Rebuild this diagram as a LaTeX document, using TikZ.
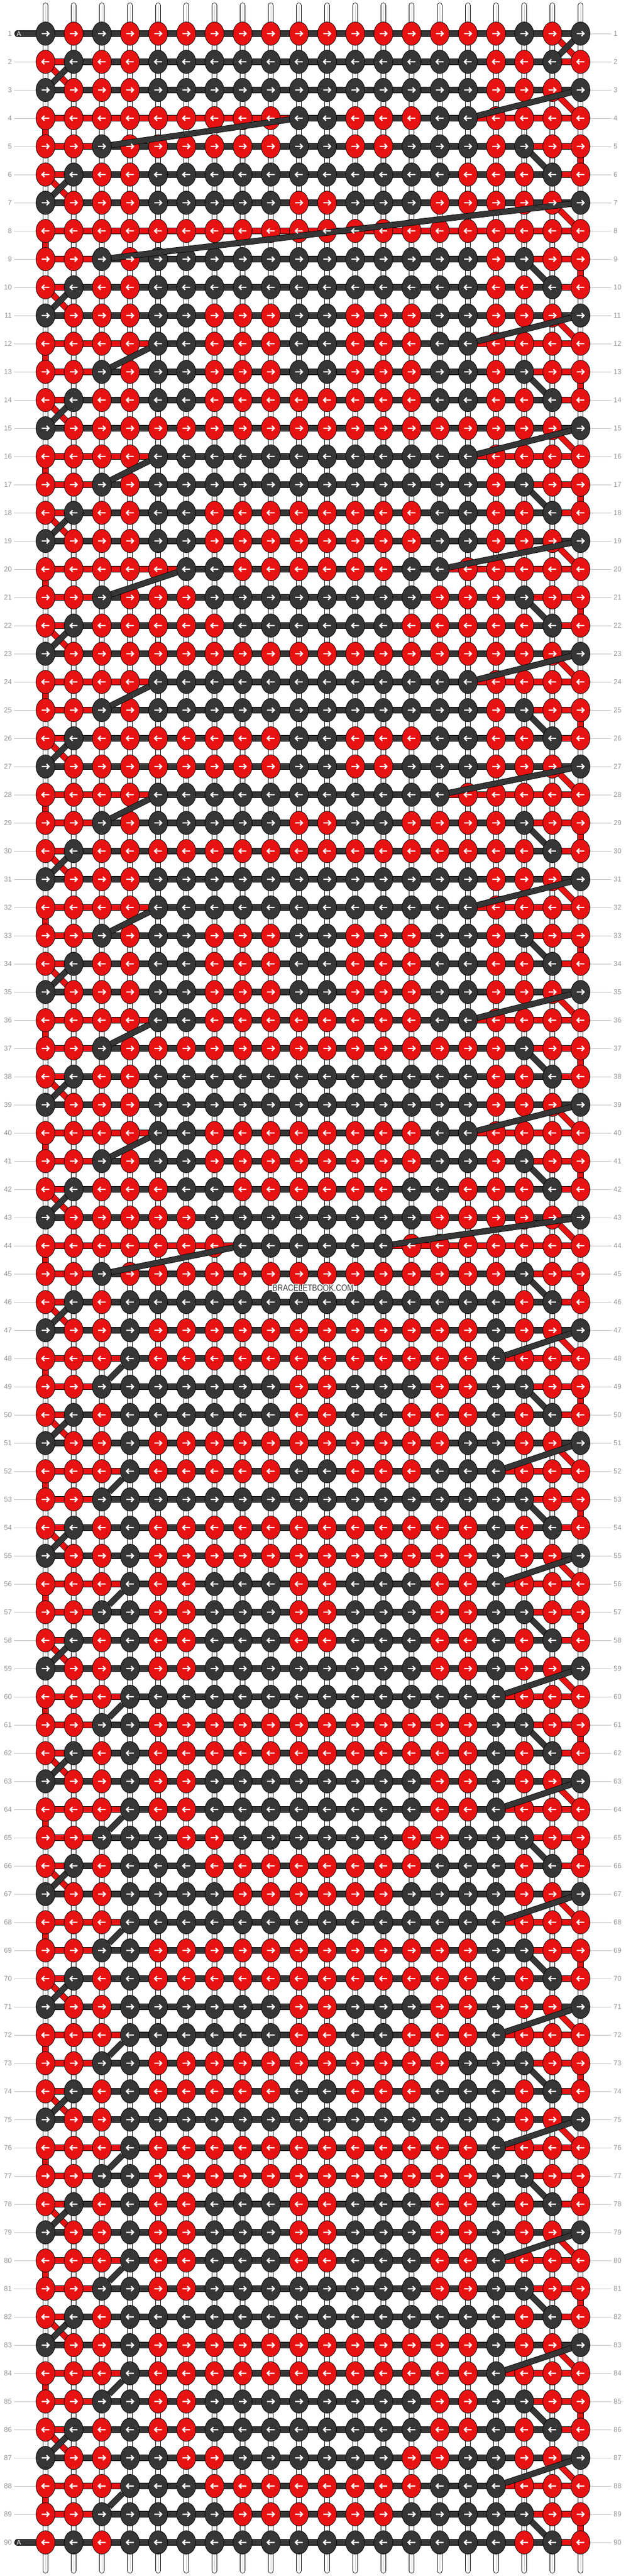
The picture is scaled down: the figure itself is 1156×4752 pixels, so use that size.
\documentclass[tikz,border=0pt]{standalone}
\usepackage{fontspec}
\setmainfont{Liberation Sans}
\usetikzlibrary{shapes.geometric}
\definecolor{kred}{RGB}{232,18,18}
\definecolor{kdark}{RGB}{54,54,54}
\definecolor{labgray}{RGB}{150,150,150}
\definecolor{linegray}{RGB}{192,192,192}
\definecolor{wmgray}{RGB}{60,60,60}
\pgfdeclarelayer{bg}
\pgfsetlayers{bg,main}
\tikzset{
  knot/.style={ellipse, draw=black, line width=0.8pt, minimum width=35pt, minimum height=43pt, inner sep=0pt},
  bar/.style={draw=black, line width=0.8pt, double=#1, double distance=9.6pt},
  tube/.style={draw=black, line width=0.7pt, double=white, double distance=8.6pt},
  tubemid/.style={draw=black!22, line width=0.8pt},
  arrline/.style={draw=white, line width=2.4pt, line join=miter},
  labline/.style={draw=linegray, line width=1pt},
  lab/.style={text=labgray, font=\fontsize{13}{15}\selectfont, inner sep=0pt},
  wm/.style={font=\fontsize{16.5}{16.5}\selectfont, xscale=0.84, inner sep=0pt}
}
\makeatletter
\newcount\kcnt
\def\krow#1#2{\def\krr{#1}\kcnt=0 \krow@#2\@nil}
\def\krow@#1{\ifx#1\@nil\else\kput#1\advance\kcnt by 1 \expandafter\krow@\fi}
\def\kput#1{%
  \edef\kname{k\krr-\the\kcnt}%
  \edef\kx{\the\numexpr84+52*\kcnt\relax}%
  \edef\ky{\the\numexpr62+52*(\krr-1)\relax}%
  \if#1R\def\kfill{kred}\else\def\kfill{kdark}\fi
  \node[knot,fill=\kfill] (\kname) at (\kx,\ky) {};}
\makeatother
\def\setB#1{\def\ks{16}\def\ke{3}%
 \ifnum#1=4 \def\ks{15}\def\ke{9}\fi
 \ifnum#1=8 \def\ks{-1}\def\ke{-1}\fi
 \ifnum#1=12 \def\ks{15}\def\ke{4}\fi
 \ifnum#1=16 \def\ks{15}\def\ke{4}\fi
 \ifnum#1=20 \def\ks{14}\def\ke{5}\fi
 \ifnum#1=24 \def\ks{15}\def\ke{4}\fi
 \ifnum#1=28 \def\ks{14}\def\ke{4}\fi
 \ifnum#1=32 \def\ks{15}\def\ke{4}\fi
 \ifnum#1=36 \def\ks{15}\def\ke{4}\fi
 \ifnum#1=40 \def\ks{15}\def\ke{4}\fi
 \ifnum#1=44 \def\ks{12}\def\ke{7}\fi}
\begin{document}
\begin{tikzpicture}[x=1pt,y=-1pt]
\useasboundingbox (0,0) rectangle (1156,4752);
% knots
\krow{1}{DRDRR RRRRR RRRRR RRDRD}
\krow{2}{RDRRD DDDDD DDDDD DRRDR}
\krow{3}{DRRRD DDDDD DDDDD DRRRD}
\krow{4}{RRRRR RRRRD DRRRD DRRRR}
\krow{5}{RRDRR RRRRD DRRDD DRDRR}
\krow{6}{RDRRD DDDDD DDDDD RRRDR}
\krow{7}{DRRRD DDDDR RDDDR RRRRD}
\krow{8}{RRRRR RRRRR RRRRR RRRRR}
\krow{9}{RRDRD DDDDD DDDDD DRDRR}
\krow{10}{RDRRD DDDDD DDDDD DRRDR}
\krow{11}{DRRRD DRRRD DRRRD DRRRD}
\krow{12}{RRRRD DRRRD DRRRD DRRRR}
\krow{13}{RRDRD DRRRD DRRRD DRDRR}
\krow{14}{RDRRD DRRRR RRRRD DRRDR}
\krow{15}{DRRRR RRRRR RRRRR RRRRD}
\krow{16}{RRRRD DDDDD DDDDD DRRRR}
\krow{17}{RRDRD DDDDD DDDDD DRDRR}
\krow{18}{RDRRD DRRRR RRRRD DRRDR}
\krow{19}{DRRRD DRRRR RRRRD DRRRD}
\krow{20}{RRRRR DDRRR RRRDD RRRRR}
\krow{21}{RRDRR RDDDD DDDDR RRDRR}
\krow{22}{RDRRR RRDDD DDDRR RRRDR}
\krow{23}{DRRRR RRRRR RRRRR RRRRD}
\krow{24}{RRRRD DDDDD DDDDD DRRRR}
\krow{25}{RRDRD DDDDD DDDDD DRDRR}
\krow{26}{RDRRR RRRRD DRRRD DRRDR}
\krow{27}{DRRRR RRRRD DRRDD DRRRD}
\krow{28}{RRRRD DDDDD DDDDD RRRRR}
\krow{29}{RRDRD DDDDR RDDRR RRDRR}
\krow{30}{RDRRR RRRRR RRRRR RRRDR}
\krow{31}{DRRRD DDDDD DDDDD DRRRD}
\krow{32}{RRRRD DDDDD DDDDD DRRRR}
\krow{33}{RRDRD DRRRD DRRRD DRDRR}
\krow{34}{RDRRD DRRRD DRRRD DRRDR}
\krow{35}{DRRRD DRRRD DRRRD DRRRD}
\krow{36}{RRRRD DRRRR RRRRD DRRRR}
\krow{37}{RRDRR RRRRR RRRRR RRDRR}
\krow{38}{RDRRD DDDDD DDDDD DRRDR}
\krow{39}{DRRRD DDDDD DDDDD DRRRD}
\krow{40}{RRRRD DRRRR RRRRD DRRRR}
\krow{41}{RRDRD DRRRR RRRRD DRDRR}
\krow{42}{RDRRR DDRRR RRRDD RRRDR}
\krow{43}{DRRRR RDDDD DDDDR RRRRD}
\krow{44}{RRRRR RRDDD DDDRR RRRRR}
\krow{45}{RRDRR RRRRR RRRRR RRDRR}
\krow{46}{RDRDD DDDDD DDDDD DDRDR}
\krow{47}{DRRDR RRRRR RRRRR RDRRD}
\krow{48}{RRRDR RRRRR RRRRR RDRRR}
\krow{49}{RRDDD DDDDR RDDDR RDDRR}
\krow{50}{RDRDD DDDDR RDDRR RDRDR}
\krow{51}{DRRDR RRRRR RRRRR DDRRD}
\krow{52}{RRRDR RRRRD DRRRD DDRRR}
\krow{53}{RRDDD DDDDD DDDDD DDDRR}
\krow{54}{RDRDR RRRRR RRRRR RDRDR}
\krow{55}{DRRDR RRRRR RRRRR RDRRD}
\krow{56}{RRRDR RDDDR RDDDR RDRRR}
\krow{57}{RRDDR RDDDR RDDDR RDDRR}
\krow{58}{RDRDR RDDDR RDDDR RDRDR}
\krow{59}{DRRDR RDDDD DDDDR RDRRD}
\krow{60}{RRRDD DDDDD DDDDD DDRRR}
\krow{61}{RRDDR RRRRR RRRRR RDDRR}
\krow{62}{RDRDR RRRRR RRRRR RDRDR}
\krow{63}{DRRDR RDDDD DDDDR RDRRD}
\krow{64}{RRRDR RDDDD DDDDR RDRRR}
\krow{65}{RRDDD RRDDD DDDRR DDDRR}
\krow{66}{RDRDD DRRRR RRRRD DDRDR}
\krow{67}{DRRDD DDRRR RRRDD DDRRD}
\krow{68}{RRRDD DDDDD DDDDD DDRRR}
\krow{69}{RRDDR RRRRR RRRRR RDDRR}
\krow{70}{RDRDR RRRRR RRRRR RDRDR}
\krow{71}{DRRDD DDDDR RDDDR RDRRD}
\krow{72}{RRRDD DDDDR RDDRR RDRRR}
\krow{73}{RRDDR RRRRR RRRRR DDDRR}
\krow{74}{RDRDR RRRRD DRRRD DDRDR}
\krow{75}{DRRDD DDDDD DDDDD DDRRD}
\krow{76}{RRRDR RRRRR RRRRR RDRRR}
\krow{77}{RRDDR RRRRR RRRRR RDDRR}
\krow{78}{RDRDR RDDDR RDDDR RDRDR}
\krow{79}{DRRDR RDDDR RDDDR RDRRD}
\krow{80}{RRRDR RDDDR RDDDR RDRRR}
\krow{81}{RRDDR RDDDD DDDDR RDDRR}
\krow{82}{RDRDD DDDDD DDDDD DDRDR}
\krow{83}{DRRDR RRRRR RRRRR RDRRD}
\krow{84}{RRRDR RRRRR RRRRR RDRRR}
\krow{85}{RRDDR RDDDD DDDDR RDDRR}
\krow{86}{RDRDR RDDDD DDDDR RDRDR}
\krow{87}{DRRDD RRDDD DDDRR DDRRD}
\krow{88}{RRRDD DRRRR RRRRD DDRRR}
\krow{89}{RRDDD DDRRR RRRDD DDDRR}
\krow{90}{RDRDD DDDDD DDDDD DDRDR}
\begin{pgfonlayer}{bg}
\fill[white] (0,0) rectangle (1156,4752);
% white strands, one per column
\foreach \c in {0,...,19}{%
  \pgfmathtruncatemacro\tx{84+52*\c}%
  \coordinate (top\c) at (\tx,10);
  \coordinate (bot\c) at (\tx,4742);
  \draw[tube,line cap=round] (top\c) foreach \r in {1,...,90}{ -- (k\r-\c.center)} -- (bot\c);
  \draw[tubemid] (top\c) foreach \r in {1,...,90}{ -- (k\r-\c.center)} -- (bot\c);
}
% horizontal bars as runs
\foreach \r in {1,...,90}{%
  \pgfmathtruncatemacro\m{mod(\r,4)}%
  \setB{\r}%
  \ifnum\r=1 \def\m{3}\fi
  \ifnum\m=3
    \draw[bar=kdark] (k\r-0.center) -- (k\r-19.center);
  \fi
  \ifnum\m=0
    \ifnum\ks<0
      \draw[bar=kred] (k\r-0.center) -- (k\r-19.center);
    \else
      \draw[bar=kred] (k\r-0.center) -- (k\r-\ke.center);
      \draw[bar=kred] (k\r-\ks.center) -- (k\r-19.center);
      \draw[bar=kdark] (k\r-\ke.center) -- (k\r-\ks.center);
    \fi
  \fi
  \ifnum\m=1
    \draw[bar=kred] (k\r-0.center) -- (k\r-2.center);
    \draw[bar=kred] (k\r-17.center) -- (k\r-19.center);
    \draw[bar=kdark] (k\r-2.center) -- (k\r-17.center);
  \fi
  \ifnum\m=2
    \draw[bar=kred] (k\r-18.center) -- (k\r-19.center);
    \ifnum\r=90
      \draw[bar=kdark] (k\r-0.center) -- (k\r-18.center);
    \else
      \draw[bar=kred] (k\r-0.center) -- (k\r-1.center);
      \draw[bar=kdark] (k\r-1.center) -- (k\r-18.center);
    \fi
  \fi}
% red vertical pieces
\foreach \r in {4,8,...,88}{%
  \pgfmathtruncatemacro\rn{\r+1}%
  \draw[bar=kred] (k\r-0.center) -- (k\rn-0.center);}
\foreach \r in {5,9,...,89}{%
  \pgfmathtruncatemacro\rn{\r+1}%
  \draw[bar=kred] (k\r-19.center) -- (k\rn-19.center);}
% short diagonals
\draw[bar=kred] (k1-18.center) -- (k2-19.center);
\draw[bar=kdark] (k1-19.center) -- (k2-18.center);
\foreach \r in {2,6,...,86}{%
  \pgfmathtruncatemacro\rn{\r+1}%
  \draw[bar=kred] (k\r-0.center) -- (k\rn-1.center);
  \draw[bar=kdark] (k\r-1.center) -- (k\rn-0.center);}
\foreach \r in {3,7,...,87}{%
  \pgfmathtruncatemacro\rn{\r+1}%
  \draw[bar=kred] (k\r-18.center) -- (k\rn-19.center);}
\foreach \r in {5,9,...,89}{%
  \pgfmathtruncatemacro\rn{\r+1}%
  \draw[bar=kdark] (k\r-17.center) -- (k\rn-18.center);}
% A tabs
\coordinate (tab1) at (32,62);
\coordinate (tab90) at (32,4690);
\draw[bar=kdark,line cap=round] (tab1) -- (k1-0.center);
\draw[bar=kdark,line cap=round] (tab90) -- (k90-0.center);
% label lines
\foreach \r in {1,...,90}{%
  \pgfmathtruncatemacro\ly{62+52*(\r-1)}%
  \coordinate (lr\r) at (1129,\ly);
  \draw[labline] (k\r-19.center) -- (lr\r);
  \ifnum\r=1 \else\ifnum\r=90 \else
    \coordinate (ll\r) at (26,\ly);
    \draw[labline] (ll\r) -- (k\r-0.center);
  \fi\fi}
\end{pgfonlayer}
% long dark diagonals over knots
\foreach \r in {3,7,...,87}{%
  \pgfmathtruncatemacro\rn{\r+1}%
  \pgfmathtruncatemacro\rnn{\r+2}%
  \setB{\rn}%
  \ifnum\ks<0
    \draw[bar=kdark] (k\r-19) -- (k\rnn-2);
  \else
    \draw[bar=kdark] (k\r-19) -- (k\rn-\ks);
    \draw[bar=kdark] (k\rn-\ke) -- (k\rnn-2);
  \fi}
% arrows, one path per row
\foreach \r in {1,...,90}{%
  \ifodd\r\relax
    \draw[arrline] foreach \c in {0,...,19}{
      ([xshift=-7pt]k\r-\c.center) -- ([xshift=6pt]k\r-\c.center)
      ([xshift=2pt,yshift=4.6pt]k\r-\c.center) -- ([xshift=6.4pt]k\r-\c.center) -- ([xshift=2pt,yshift=-4.6pt]k\r-\c.center)};
  \else
    \draw[arrline] foreach \c in {0,...,19}{
      ([xshift=7pt]k\r-\c.center) -- ([xshift=-6pt]k\r-\c.center)
      ([xshift=-2pt,yshift=4.6pt]k\r-\c.center) -- ([xshift=-6.4pt]k\r-\c.center) -- ([xshift=-2pt,yshift=-4.6pt]k\r-\c.center)};
  \fi}
% labels
\foreach \r in {1,...,90}{%
  \pgfmathtruncatemacro\ly{62+52*(\r-1)}%
  \node[lab,anchor=east] (labL\r) at (22,\ly) {\r};
  \node[lab,anchor=west] (labR\r) at (1133,\ly) {\r};}
\node[text=white,font=\fontsize{12}{12}\selectfont,inner sep=0pt] (tabA1) at (35,62) {A};
\node[text=white,font=\fontsize{12}{12}\selectfont,inner sep=0pt] (tabA90) at (35,4690) {A};
% watermark
\foreach \dx/\dy [count=\i] in {-1.6/-1.6,0/-1.6,1.6/-1.6,-1.6/0,1.6/0,-1.6/1.6,0/1.6,1.6/1.6}{%
  \node[wm,text=white] (wmh\i) at ({578+\dx},{2376+\dy}) {BRACELETBOOK.COM};}
\node[wm,text=wmgray] (wm) at (578,2376) {BRACELETBOOK.COM};
\end{tikzpicture}
\end{document}
